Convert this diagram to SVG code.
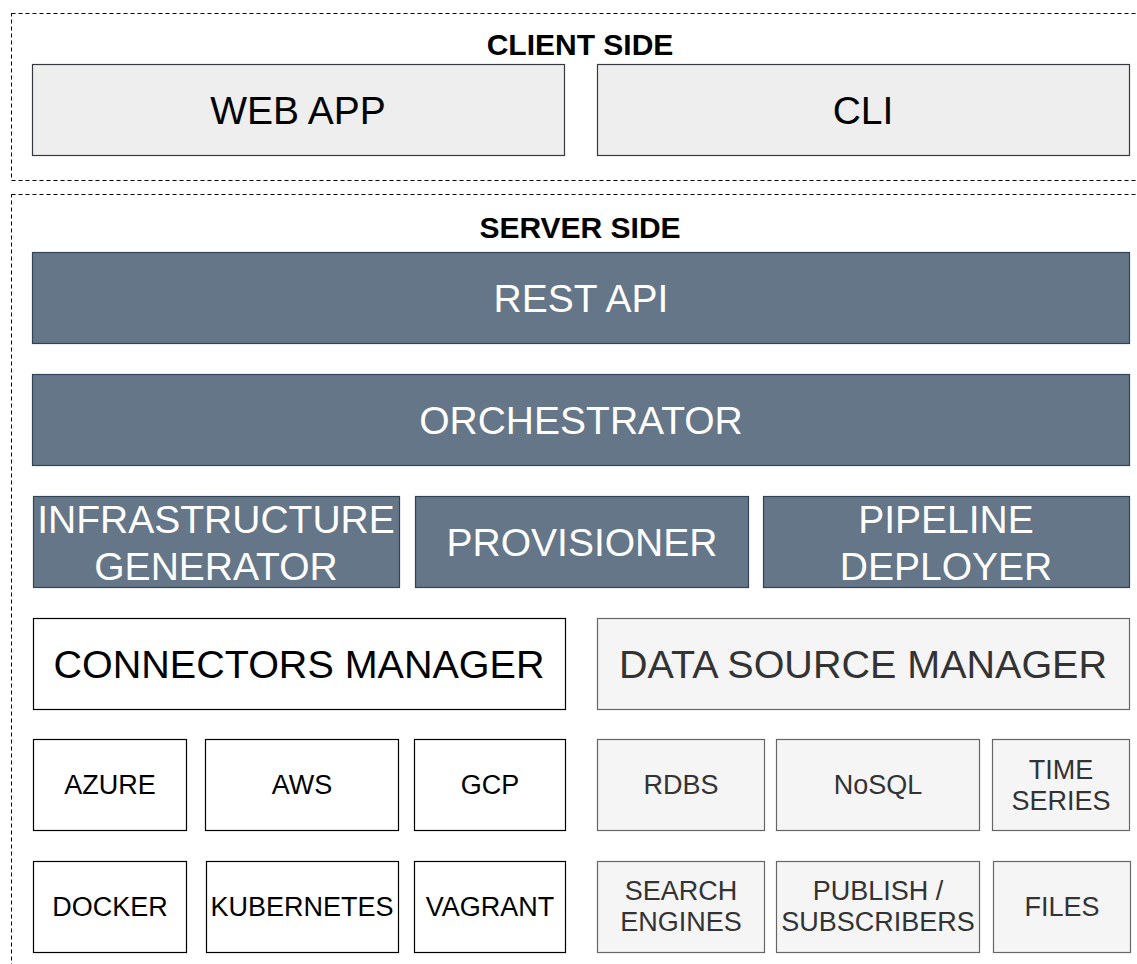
<svg xmlns="http://www.w3.org/2000/svg" width="1137" height="964" viewBox="0 0 1137 964">
  <style>
    text { font-family: "Liberation Sans", Arial, Helvetica, sans-serif; text-anchor: middle; dominant-baseline: central; }
    .zone { fill: none; stroke: #000; stroke-width: 1; stroke-dasharray: 4 3; }
    .zone-title { font-size: 30px; font-weight: bold; fill: #000; }
    .client rect { fill: #eeeeee; stroke: #36393d; stroke-width: 1.2; }
    .client text { font-size: 39px; fill: #000; }
    .core rect { fill: #647687; stroke: #314354; stroke-width: 1.2; }
    .core text { font-size: 39px; fill: #ffffff; }
    .plain rect { fill: #ffffff; stroke: #000; stroke-width: 1.2; }
    .plain text { fill: #000; }
    .data rect { fill: #f5f5f5; stroke: #666666; stroke-width: 1.2; }
    .data text { fill: #333333; }
    .big { font-size: 39.5px; }
    .small { font-size: 27px; }
  </style>

  <!-- zones -->
  <g id="client-zone">
    <rect class="zone" x="11.5" y="13.5" width="1140" height="167"/>
    <text class="zone-title" x="580" y="44">CLIENT SIDE</text>
  </g>
  <g id="server-zone">
    <rect class="zone" x="11.5" y="194.5" width="1140" height="790"/>
    <text class="zone-title" x="580" y="227">SERVER SIDE</text>
  </g>

  <!-- client apps -->
  <g id="web-app" class="client">
    <rect x="32.5" y="64.5" width="532" height="91"/>
    <text x="298" y="110">WEB APP</text>
  </g>
  <g id="cli" class="client">
    <rect x="597.5" y="64.5" width="532" height="91"/>
    <text x="863" y="110">CLI</text>
  </g>

  <!-- server core -->
  <g id="rest-api" class="core">
    <rect x="32.5" y="252.5" width="1097" height="91"/>
    <text x="581" y="298">REST API</text>
  </g>
  <g id="orchestrator" class="core">
    <rect x="32.5" y="374.5" width="1097" height="91"/>
    <text x="581" y="420">ORCHESTRATOR</text>
  </g>
  <g id="infrastructure-generator" class="core">
    <rect x="33.5" y="496.5" width="366" height="91"/>
    <text x="216" y="519">INFRASTRUCTURE</text>
    <text x="216" y="566">GENERATOR</text>
  </g>
  <g id="provisioner" class="core">
    <rect x="415.5" y="496.5" width="333" height="91"/>
    <text x="582" y="542">PROVISIONER</text>
  </g>
  <g id="pipeline-deployer" class="core">
    <rect x="763.5" y="496.5" width="366" height="91"/>
    <text x="946" y="519">PIPELINE</text>
    <text x="946" y="566">DEPLOYER</text>
  </g>

  <!-- managers -->
  <g id="connectors-manager" class="plain">
    <rect x="33.5" y="618.5" width="532" height="91"/>
    <text class="big" x="299" y="664">CONNECTORS MANAGER</text>
  </g>
  <g id="data-source-manager" class="data">
    <rect x="597.5" y="618.5" width="532" height="91"/>
    <text class="big" x="863" y="664">DATA SOURCE MANAGER</text>
  </g>

  <!-- connectors -->
  <g id="azure" class="plain">
    <rect x="33.5" y="739.5" width="153" height="91"/>
    <text class="small" x="110" y="785">AZURE</text>
  </g>
  <g id="aws" class="plain">
    <rect x="205.5" y="739.5" width="193" height="91"/>
    <text class="small" x="302" y="785">AWS</text>
  </g>
  <g id="gcp" class="plain">
    <rect x="414.5" y="739.5" width="151" height="91"/>
    <text class="small" x="490" y="785">GCP</text>
  </g>
  <g id="docker" class="plain">
    <rect x="33.5" y="861.5" width="153" height="91"/>
    <text class="small" x="110" y="907">DOCKER</text>
  </g>
  <g id="kubernetes" class="plain">
    <rect x="206.5" y="861.5" width="192" height="91"/>
    <text class="small" x="302" y="907">KUBERNETES</text>
  </g>
  <g id="vagrant" class="plain">
    <rect x="414.5" y="861.5" width="151" height="91"/>
    <text class="small" x="490" y="907">VAGRANT</text>
  </g>

  <!-- data sources -->
  <g id="rdbs" class="data">
    <rect x="597.5" y="739.5" width="167" height="91"/>
    <text class="small" x="681" y="785">RDBS</text>
  </g>
  <g id="nosql" class="data">
    <rect x="776.5" y="739.5" width="203" height="91"/>
    <text class="small" x="878" y="785">NoSQL</text>
  </g>
  <g id="time-series" class="data">
    <rect x="992.5" y="739.5" width="137" height="91"/>
    <text class="small" x="1061" y="770">TIME</text>
    <text class="small" x="1061" y="801">SERIES</text>
  </g>
  <g id="search-engines" class="data">
    <rect x="597.5" y="861.5" width="167" height="91"/>
    <text class="small" x="681" y="891">SEARCH</text>
    <text class="small" x="681" y="922">ENGINES</text>
  </g>
  <g id="publish-subscribers" class="data">
    <rect x="776.5" y="861.5" width="203" height="91"/>
    <text class="small" x="878" y="891">PUBLISH /</text>
    <text class="small" x="878" y="922">SUBSCRIBERS</text>
  </g>
  <g id="files" class="data">
    <rect x="993.5" y="861.5" width="137" height="91"/>
    <text class="small" x="1062" y="907">FILES</text>
  </g>

  <!-- no connectors between nodes -->
  <g id="connectors"/>
</svg>
